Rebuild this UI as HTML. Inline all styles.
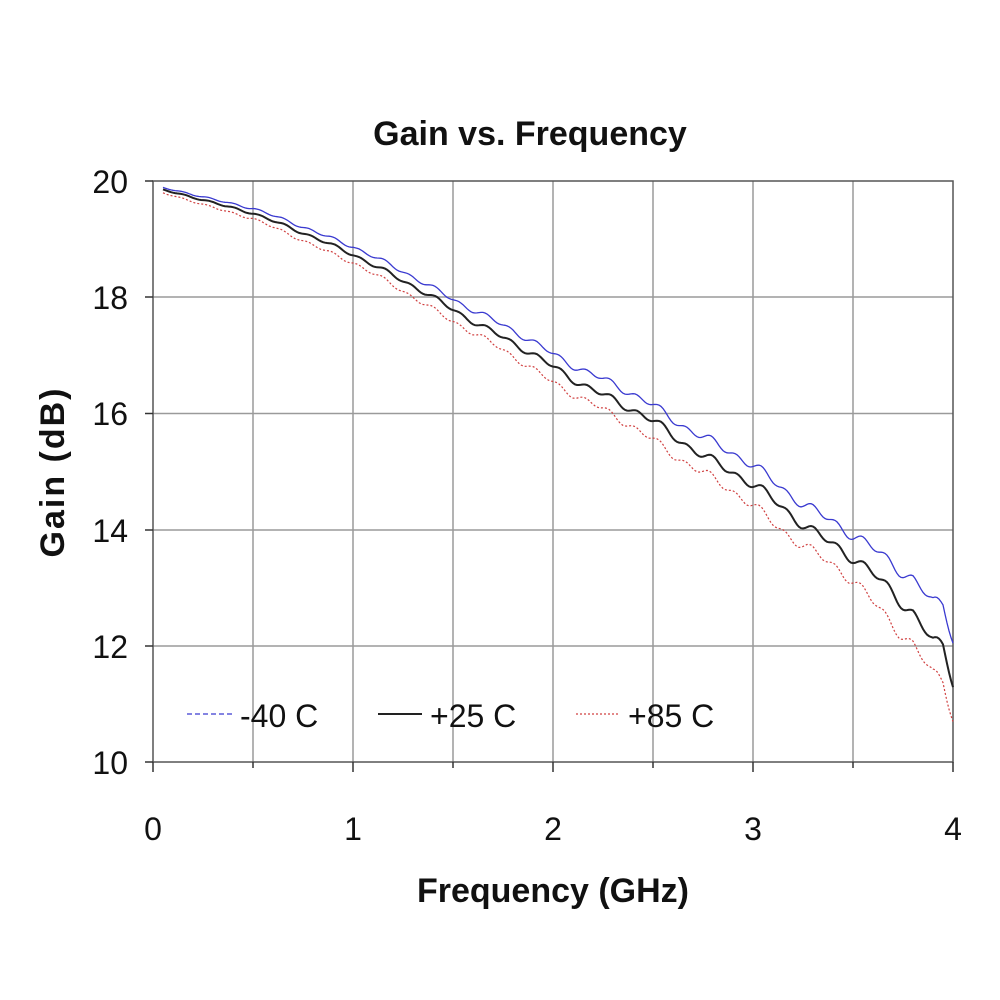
<!DOCTYPE html>
<html><head><meta charset="utf-8"><style>
html,body{margin:0;padding:0;background:#fff;}
svg{display:block;font-family:"Liberation Sans",sans-serif;}
</style></head><body>
<svg id="s" width="1000" height="1000" viewBox="0 0 1000 1000">
<rect width="1000" height="1000" fill="#fff"/>
<g stroke="#9a9a9a" stroke-width="1.5" fill="none">
<line x1="253" y1="181" x2="253" y2="762"/><line x1="353" y1="181" x2="353" y2="762"/>
<line x1="453" y1="181" x2="453" y2="762"/><line x1="553" y1="181" x2="553" y2="762"/>
<line x1="653" y1="181" x2="653" y2="762"/><line x1="753" y1="181" x2="753" y2="762"/>
<line x1="853" y1="181" x2="853" y2="762"/>
<line x1="153" y1="297" x2="953" y2="297"/><line x1="153" y1="413.5" x2="953" y2="413.5"/>
<line x1="153" y1="530" x2="953" y2="530"/><line x1="153" y1="646" x2="953" y2="646"/>
</g>
<rect x="153" y="181" width="800" height="581" fill="none" stroke="#555" stroke-width="1.5"/>
<g stroke="#333" stroke-width="1.5">
<line x1="153" y1="762" x2="153" y2="772"/><line x1="253" y1="762" x2="253" y2="768"/><line x1="353" y1="762" x2="353" y2="772"/><line x1="453" y1="762" x2="453" y2="768"/><line x1="553" y1="762" x2="553" y2="772"/><line x1="653" y1="762" x2="653" y2="768"/><line x1="753" y1="762" x2="753" y2="772"/><line x1="853" y1="762" x2="853" y2="768"/><line x1="953" y1="762" x2="953" y2="772"/>
<line x1="145" y1="181" x2="153" y2="181"/><line x1="145" y1="297" x2="153" y2="297"/><line x1="145" y1="413.5" x2="153" y2="413.5"/><line x1="145" y1="530" x2="153" y2="530"/><line x1="145" y1="646" x2="153" y2="646"/><line x1="145" y1="762" x2="153" y2="762"/>
</g>
<path id="pb" fill="none" stroke="#3a3ad0" stroke-width="1.3"/>
<path id="pr" fill="none" stroke="#d04040" stroke-width="1.2" stroke-dasharray="2,2"/>
<path id="pk" fill="none" stroke="#222" stroke-width="2"/>
<g font-size="32" fill="#111" text-anchor="end">
<text x="128" y="193">20</text><text x="128" y="309">18</text><text x="128" y="425">16</text>
<text x="128" y="542">14</text><text x="128" y="658">12</text><text x="128" y="774">10</text>
</g>
<g font-size="32" fill="#111" text-anchor="middle">
<text x="153" y="840">0</text><text x="353" y="840">1</text><text x="553" y="840">2</text><text x="753" y="840">3</text><text x="953" y="840">4</text>
</g>
<text x="530" y="145" font-size="34" font-weight="bold" text-anchor="middle" fill="#111">Gain vs. Frequency</text>
<text x="553" y="902" font-size="34" font-weight="bold" text-anchor="middle" fill="#111">Frequency (GHz)</text>
<text transform="translate(64,472) rotate(-90)" font-size="34" font-weight="bold" text-anchor="middle" fill="#111" letter-spacing="2">Gain (dB)</text>
<line x1="187" y1="714" x2="233" y2="714" stroke="#3a3ad0" stroke-width="1.3" stroke-dasharray="5,3"/>
<text x="240" y="727" font-size="32" fill="#111">-40 C</text>
<line x1="378" y1="714" x2="422" y2="714" stroke="#222" stroke-width="2"/>
<text x="430" y="727" font-size="32" fill="#111">+25 C</text>
<line x1="576" y1="714" x2="620" y2="714" stroke="#d04040" stroke-width="1.2" stroke-dasharray="2,2"/>
<text x="628" y="727" font-size="32" fill="#111">+85 C</text>
</svg>
<script>
var A=[[0.05,19.85],[0.5,19.45],[1,18.75],[1.5,17.8],[2,16.8],[2.5,15.85],[3,14.75],[3.5,13.5],[3.8,12.6],[3.9,12.1],[3.95,12.0],[4,11.4]];
function base(f){for(var i=0;i<A.length-1;i++){if(f<=A[i+1][0]){var t=(f-A[i][0])/(A[i+1][0]-A[i][0]);return A[i][1]+t*(A[i+1][1]-A[i][1]);}}return A[A.length-1][1];}
function X(f){return 153+f*200;}function Y(g){return 181+(20-g)*58.1;}
function mk(off,ph){var d="";for(var f=0.05;f<=4.0001;f+=0.01){var g=base(f)+off(f)+Math.sin(f*50+ph)*0.025*(0.3+f/1.5)+Math.sin(f*23+ph)*0.03*f/2+Math.sin(f*11+ph*2)*0.02*f/2;d+=(d?"L":"M")+X(f).toFixed(1)+","+Y(g).toFixed(1);}return d;}
document.getElementById("pk").setAttribute("d",mk(function(f){return 0;},0));
document.getElementById("pb").setAttribute("d",mk(function(f){return 0.03+0.1*f+(f>3.5?(f-3.5)*0.6:0);},0.3));
document.getElementById("pr").setAttribute("d",mk(function(f){return -0.05-0.1*f-(f>3.5?(f-3.5)*0.4:0);},0.6));
</script>
</body></html>
